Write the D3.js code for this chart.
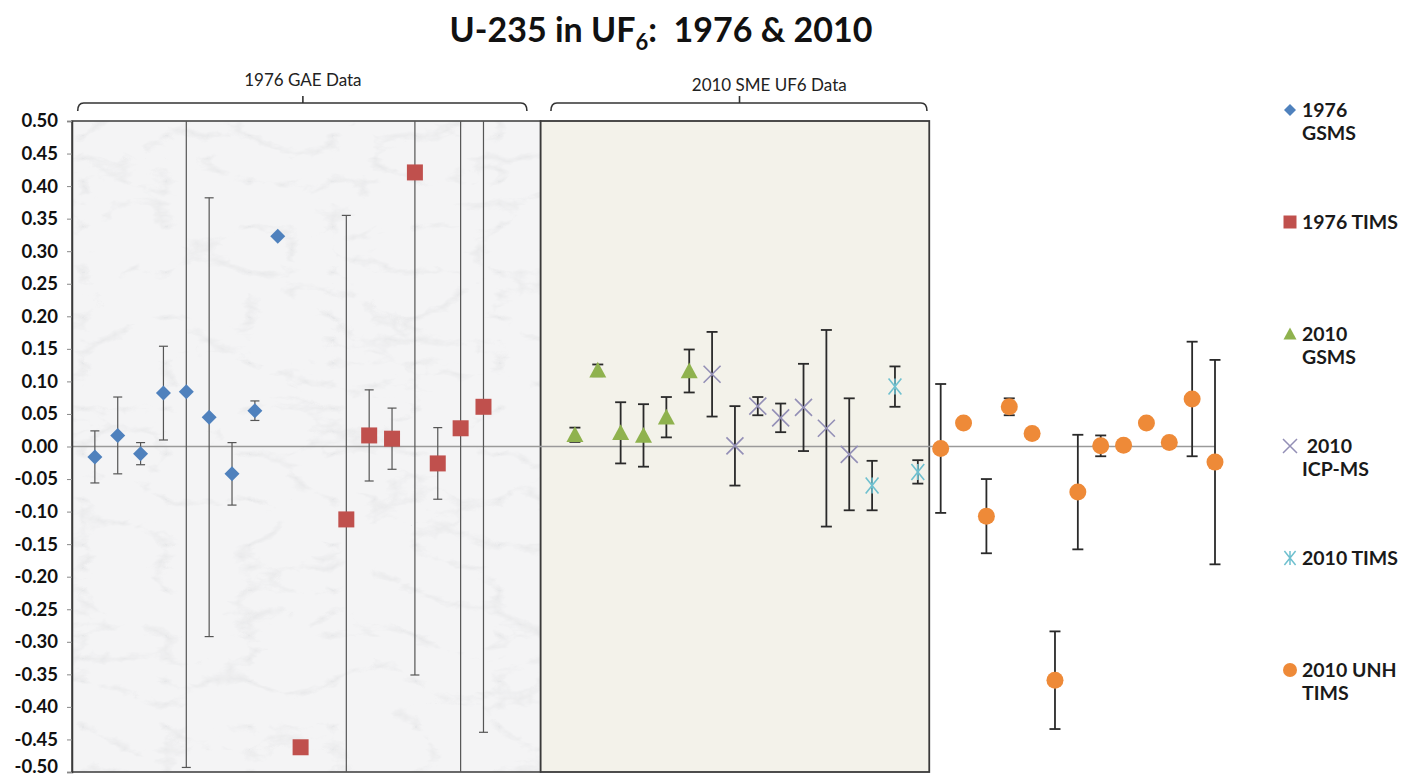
<!DOCTYPE html>
<html>
<head>
<meta charset="utf-8">
<script src="https://cdn.jsdelivr.net/npm/d3@7"></script>
<style>
  html, body { margin: 0; padding: 0; background: #ffffff; }
  svg { display: block; font-family: Lato, "Open Sans", sans-serif; }
</style>
</head>
<body>
<svg id="chart" width="1416" height="778"></svg>
<script>
// Sample positions (sample number along the x axis)
const gsms1976X = [1, 2, 3, 4, 5, 6, 7, 8, 9];
const gsms1976Y = [-0.016, 0.017, -0.011, 0.082, 0.084, 0.045, -0.042, 0.055, 0.323];
const gsms1976Err = [0.040, 0.059, 0.017, 0.072, 0.577, 0.337, 0.048, 0.015, null];

const tims1976X = [10, 12, 13, 14, 15, 16, 17, 18];
const tims1976Y = [-0.462, -0.112, 0.017, 0.012, 0.421, -0.026, 0.028, 0.061];
const tims1976Err = [null, 0.467, 0.070, 0.047, 0.772, 0.055, 0.62, 0.50];

const gsms2010X = [22, 23, 24, 25, 26, 27];
const gsms2010Y = [0.018, 0.117, 0.021, 0.017, 0.045, 0.116];
const gsms2010Err = [0.011, 0.009, 0.047, 0.048, 0.031, 0.033];

const icp2010X = [28, 29, 30, 31, 32, 33, 34];
const icp2010Y = [0.111, 0.001, 0.062, 0.044, 0.060, 0.028, -0.012];
const icp2010Err = [0.065, 0.061, 0.014, 0.022, 0.067, 0.151, 0.086];

const tims2010X = [35, 36, 37];
const tims2010Y = [-0.060, 0.092, -0.039];
const tims2010Err = [0.038, 0.031, 0.018];

const unh2010X = [38, 39, 40, 41, 42, 43, 44, 45, 46, 47, 48, 49, 50];
const unh2010Y = [-0.003, 0.036, -0.107, 0.061, 0.020, -0.359, -0.070, 0.001, 0.002, 0.036, 0.006, 0.073, -0.024];
const unh2010Err = [0.099, null, 0.057, 0.013, null, 0.075, 0.088, 0.016, null, null, null, 0.088, 0.157];

// Axis ticks
const yTicks = [0.50, 0.45, 0.40, 0.35, 0.30, 0.25, 0.20, 0.15, 0.10, 0.05, 0.00,
                -0.05, -0.10, -0.15, -0.20, -0.25, -0.30, -0.35, -0.40, -0.45, -0.50];

// Data-group panels and brackets (in sample-number units)
const groupNames = ["1976 GAE Data", "2010 SME UF6 Data"];
const groupPanels = [[0, 20.5], [20.5, 37.5]];
const groupBrackets = [[0.25, 19.9, 10.1], [20.95, 37.4, 29.2]];
const groupLabelAt = [10.1, 30.5];

const legendLabels = [["1976", "GSMS"], ["1976 TIMS"], ["2010", "GSMS"], [" 2010", "ICP-MS"], ["2010 TIMS"], ["2010 UNH", "TIMS"]];

const series = [
  { x: gsms1976X, y: gsms1976Y, e: gsms1976Err, shape: "diamond", color: "#4f81bd", era: 1976 },
  { x: tims1976X, y: tims1976Y, e: tims1976Err, shape: "square", color: "#c0504d", era: 1976 },
  { x: gsms2010X, y: gsms2010Y, e: gsms2010Err, shape: "triangle", color: "#8fb24e", era: 2010 },
  { x: icp2010X, y: icp2010Y, e: icp2010Err, shape: "x", color: "#938fb6", era: 2010 },
  { x: tims2010X, y: tims2010Y, e: tims2010Err, shape: "asterisk", color: "#6fc0cf", era: 2010 },
  { x: unh2010X, y: unh2010Y, e: unh2010Err, shape: "circle", color: "#ee8a38", era: 2010 }
];

const svg = d3.select("#chart");
const plot = { left: 72, right: 1215, top: 121, bottom: 772 };

const x = d3.scaleLinear().domain([0, 50]).range([plot.left, plot.right]);
const y = d3.scaleLinear().domain([-0.5, 0.5]).range([plot.bottom, plot.top]);

const defs = svg.append("defs");
defs.append("clipPath").attr("id", "plotClip")
  .append("rect")
  .attr("x", 0).attr("y", y(0.5)).attr("width", 1416).attr("height", y(-0.5) - y(0.5));

// Faint marble-like texture for the 1976 panel
const marble = defs.append("filter").attr("id", "marble")
  .attr("x", 0).attr("y", 0).attr("width", 1).attr("height", 1)
  .attr("filterUnits", "objectBoundingBox");
marble.append("feTurbulence")
  .attr("type", "turbulence").attr("baseFrequency", "0.012 0.022")
  .attr("numOctaves", 5).attr("seed", 11).attr("result", "noise");
marble.append("feColorMatrix").attr("in", "noise").attr("type", "matrix")
  .attr("values", "0 0 0 0 0.62  0 0 0 0 0.63  0 0 0 0 0.65  -1.6 0 0 0 0.36")
  .attr("result", "veins");
marble.append("feGaussianBlur").attr("in", "veins").attr("stdDeviation", 0.7).attr("result", "soft");
marble.append("feFlood").attr("flood-color", "#f4f4f5").attr("result", "base");
marble.append("feComposite").attr("in", "soft").attr("in2", "base").attr("operator", "over");

// Title
const title = svg.append("text")
  .attr("x", 661).attr("y", 42)
  .attr("text-anchor", "middle")
  .style("font-size", "34px").style("font-weight", "bold").style("white-space", "pre")
  .attr("fill", "#111");
title.append("tspan").text("U-235 in UF");
title.append("tspan").attr("dy", 8).style("font-size", "22px").text("6");
title.append("tspan").attr("dy", -8).text(":  1976 & 2010");

// Group panels
svg.append("rect")
  .attr("x", x(groupPanels[0][0])).attr("y", y(0.5))
  .attr("width", x(groupPanels[0][1]) - x(groupPanels[0][0]))
  .attr("height", y(-0.5) - y(0.5))
  .attr("filter", "url(#marble)");
svg.append("rect")
  .attr("x", x(groupPanels[0][0])).attr("y", y(0.5))
  .attr("width", x(groupPanels[0][1]) - x(groupPanels[0][0]))
  .attr("height", y(-0.5) - y(0.5))
  .attr("fill", "none").attr("stroke", "#3a3a3a").attr("stroke-width", 1.5);
svg.append("rect")
  .attr("x", x(groupPanels[1][0])).attr("y", y(0.5))
  .attr("width", x(groupPanels[1][1]) - x(groupPanels[1][0]))
  .attr("height", y(-0.5) - y(0.5))
  .attr("fill", "#f3f2ea").attr("stroke", "#3a3a3a").attr("stroke-width", 1.8);

// Brackets over the groups
groupBrackets.forEach(([a, b, m], i) => {
  const x0 = x(a), x1 = x(b), xm = x(m), by = 103;
  svg.append("path")
    .attr("d", `M${x0},${by + 8} Q${x0},${by} ${x0 + 6},${by} L${x1 - 6},${by} Q${x1},${by} ${x1},${by + 8} M${xm},${by} L${xm},${by - 7}`)
    .attr("fill", "none").attr("stroke", "#333").attr("stroke-width", 1.6);
  svg.append("text")
    .attr("x", x(groupLabelAt[i])).attr("y", i === 0 ? 86 : 91)
    .attr("text-anchor", "middle")
    .style("font-size", "17px").attr("fill", "#222")
    .text(groupNames[i]);
});

// Zero line (horizontal axis)
svg.append("line")
  .attr("x1", plot.left).attr("x2", plot.right)
  .attr("y1", y(0)).attr("y2", y(0))
  .attr("stroke", "#9a9a9a").attr("stroke-width", 1.6);

// Vertical axis
const yAxis = svg.append("g")
  .attr("transform", `translate(${plot.left},0)`)
  .call(d3.axisLeft(y).tickValues(yTicks).tickFormat(d => d.toFixed(2)).tickSize(5).tickPadding(9));
yAxis.select(".domain").attr("stroke", "#3a3a3a").attr("stroke-width", 1.5);
yAxis.selectAll(".tick line").attr("stroke", "#888");
yAxis.selectAll(".tick text")
  .style("font-size", "18.5px").style("font-weight", "bold")
  .style("font-family", "Lato, sans-serif").attr("fill", "#111")
  .attr("dy", d => d === -0.5 ? "0em" : "0.32em");

// Marker shapes
function markerPath(shape, s) {
  const h = s / 2;
  switch (shape) {
    case "diamond": return `M0,${-h}L${h},0L0,${h}L${-h},0Z`;
    case "square": return `M${-h},${-h}H${h}V${h}H${-h}Z`;
    case "triangle": return `M0,${-h}L${h},${h * 0.85}L${-h},${h * 0.85}Z`;
    case "x": return `M${-h},${-h}L${h},${h}M${h},${-h}L${-h},${h}`;
    case "asterisk": return `M${-h * 0.8},${-h}L${h * 0.8},${h}M${h * 0.8},${-h}L${-h * 0.8},${h}M0,${-h}L0,${h}`;
    case "circle": return `M${h},0A${h},${h} 0 1,1 ${-h},0A${h},${h} 0 1,1 ${h},0Z`;
  }
}
const stroked = s => s === "x" || s === "asterisk";
const plotSize = { diamond: 15, square: 16, triangle: 17, x: 17, asterisk: 16, circle: 17 };
const legendSize = { diamond: 12, square: 13, triangle: 13, x: 14, asterisk: 14, circle: 14 };

// Error bars
const errG = svg.append("g").attr("clip-path", "url(#plotClip)");
series.forEach(s => {
  const cap = s.era === 1976 ? 4.5 : 5.5;
  const sw = s.era === 1976 ? 1.2 : 1.8;
  const col = s.era === 1976 ? "#555" : "#2a2a2a";
  s.x.forEach((xv, i) => {
    const e = s.e[i];
    if (e == null) return;
    const cx = x(xv), top = y(s.y[i] + e), bot = y(s.y[i] - e);
    const g = errG.append("g").attr("stroke", col).attr("stroke-width", sw);
    g.append("line").attr("x1", cx).attr("x2", cx).attr("y1", top).attr("y2", bot);
    g.append("line").attr("x1", cx - cap).attr("x2", cx + cap).attr("y1", top).attr("y2", top);
    g.append("line").attr("x1", cx - cap).attr("x2", cx + cap).attr("y1", bot).attr("y2", bot);
  });
});

// Markers
series.forEach(s => {
  svg.append("g").selectAll("path")
    .data(s.x.map((xv, i) => [xv, s.y[i]]))
    .join("path")
    .attr("transform", d => `translate(${x(d[0])},${y(d[1])})`)
    .attr("d", markerPath(s.shape, plotSize[s.shape]))
    .attr("fill", stroked(s.shape) ? "none" : s.color)
    .attr("stroke", stroked(s.shape) ? s.color : "none")
    .attr("stroke-width", stroked(s.shape) ? 1.6 : 0);
});

// Legend
const legendY = d3.scaleLinear().domain([0, 5]).range([110, 670]);
const legend = svg.append("g");
series.forEach((s, i) => {
  const ly = legendY(i);
  legend.append("path")
    .attr("transform", `translate(1290,${ly})`)
    .attr("d", markerPath(s.shape, legendSize[s.shape]))
    .attr("fill", stroked(s.shape) ? "none" : s.color)
    .attr("stroke", stroked(s.shape) ? s.color : "none")
    .attr("stroke-width", stroked(s.shape) ? 1.5 : 0);
  const t = legend.append("text")
    .attr("x", 1302).attr("y", ly + 7)
    .style("font-size", "19.5px").style("font-weight", "bold").style("white-space", "pre")
    .attr("fill", "#1a1a1a");
  legendLabels[i].forEach((line, k) => {
    t.append("tspan").attr("x", 1302).attr("dy", k === 0 ? 0 : 23).text(line);
  });
});
</script>
</body>
</html>
